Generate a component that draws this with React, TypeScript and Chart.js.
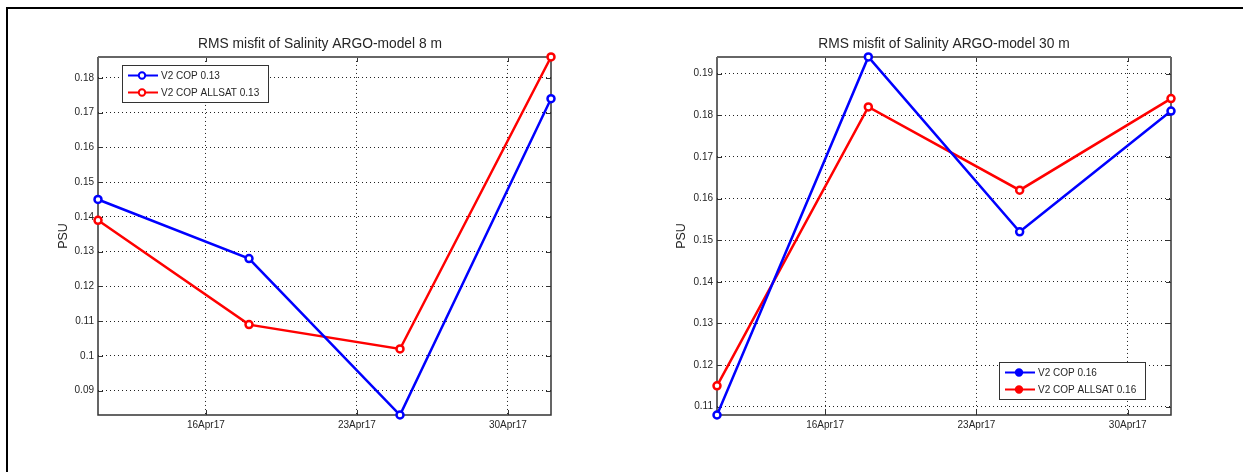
import React, { useEffect, useRef } from "react";
import { Chart, Plugin, registerables } from "chart.js";

Chart.register(...registerables);

const FONT = "'Liberation Sans', Arial, sans-serif";
const TEXT = "#262626";

const dates = ["2017-04-11", "2017-04-18", "2017-04-25", "2017-05-02"];
const tickDates = ["2017-04-16", "2017-04-23", "2017-04-30"];
const tickLabels = ["16Apr17", "23Apr17", "30Apr17"];

const blue8m = [0.145, 0.128, 0.083, 0.174];
const red8m = [0.139, 0.109, 0.102, 0.186];
const yTicks8m = [0.09, 0.1, 0.11, 0.12, 0.13, 0.14, 0.15, 0.16, 0.17, 0.18];

const blue30m = [0.108, 0.194, 0.152, 0.181];
const red30m = [0.115, 0.182, 0.162, 0.184];
const yTicks30m = [0.11, 0.12, 0.13, 0.14, 0.15, 0.16, 0.17, 0.18, 0.19];

const toTime = (d: string) => Date.parse(d + "T00:00:00Z");

type PanelProps = {
  left: number;
  width: number;
  axisWidth: number;
  rightPad: number;
  psuPad: number;
  title: string;
  blue: number[];
  red: number[];
  blueLabel: string;
  redLabel: string;
  yMin: number;
  yMax: number;
  yTicks: number[];
  legendBox: { x: number; y: number; w: number; h: number };
  legendFilled: boolean;
};

const Panel: React.FC<PanelProps> = (p) => {
  const chartRef = useRef<HTMLCanvasElement | null>(null);

  useEffect(() => {
    if (!chartRef.current) return;

    // MATLAB style box, inward ticks on all four sides, and the boxed legend
    const matlabBits: Plugin<"line"> = {
      id: "matlabBits",
      beforeDatasetsDraw(chart) {
        const { ctx, chartArea: a, scales } = chart;
        ctx.save();
        ctx.strokeStyle = "#333";
        ctx.lineWidth = 1;
        ctx.beginPath();
        scales.x.ticks.forEach((t) => {
          const x = Math.round(scales.x.getPixelForValue(t.value)) + 0.5;
          ctx.moveTo(x, a.bottom);
          ctx.lineTo(x, a.bottom - 5);
          ctx.moveTo(x, a.top);
          ctx.lineTo(x, a.top + 5);
        });
        scales.y.ticks.forEach((t) => {
          const y = Math.round(scales.y.getPixelForValue(t.value)) + 0.5;
          ctx.moveTo(a.left, y);
          ctx.lineTo(a.left + 5, y);
          ctx.moveTo(a.right, y);
          ctx.lineTo(a.right - 5, y);
        });
        ctx.stroke();

        ctx.lineWidth = 1.5;
        ctx.beginPath();
        ctx.moveTo(a.left, a.top);
        ctx.lineTo(a.left, a.bottom);
        ctx.lineTo(a.right, a.bottom);
        ctx.lineTo(a.right, a.top);
        ctx.stroke();
        ctx.strokeStyle = "#666";
        ctx.lineWidth = 2;
        ctx.beginPath();
        ctx.moveTo(a.left, a.top);
        ctx.lineTo(a.right, a.top);
        ctx.stroke();
        ctx.restore();
      },
      afterDatasetsDraw(chart) {
        const { ctx } = chart;
        ctx.save();
        const b = p.legendBox;
        ctx.fillStyle = "#fff";
        ctx.fillRect(b.x, b.y, b.w, b.h);
        ctx.strokeStyle = "#333";
        ctx.lineWidth = 1;
        ctx.strokeRect(b.x + 0.5, b.y + 0.5, b.w, b.h);

        ctx.font = "10px " + FONT;
        ctx.textBaseline = "middle";
        ctx.textAlign = "left";
        chart.data.datasets.forEach((ds, i) => {
          const rowY = b.y + 10.5 + i * 17;
          const color = ds.borderColor as string;
          ctx.strokeStyle = color;
          ctx.lineWidth = 2;
          ctx.beginPath();
          ctx.moveTo(b.x + 6, rowY);
          ctx.lineTo(b.x + 36, rowY);
          ctx.stroke();
          ctx.beginPath();
          ctx.arc(b.x + 20, rowY, 3.2, 0, Math.PI * 2);
          ctx.fillStyle = p.legendFilled ? color : "#fff";
          ctx.fill();
          ctx.stroke();
          ctx.fillStyle = TEXT;
          ctx.fillText(String(ds.label), b.x + 39, rowY + 0.5);
        });
        ctx.restore();
      },
    };

    const series = (label: string, values: number[], color: string) => ({
      label,
      data: values.map((v, i) => ({ x: toTime(dates[i]), y: v })),
      borderColor: color,
      backgroundColor: "#fff",
      borderWidth: 2.5,
      pointRadius: 3.5,
      pointBorderWidth: 2.5,
      tension: 0,
      clip: false as const,
    });

    const myChart = new Chart(chartRef.current, {
      type: "line",
      data: {
        datasets: [
          series(p.blueLabel, p.blue, "#0000ff"),
          series(p.redLabel, p.red, "#ff0000"),
        ],
      },
      options: {
        responsive: false,
        animation: false,
        layout: { padding: 0 },
        plugins: {
          legend: { display: false },
          tooltip: { enabled: false },
          title: {
            display: true,
            text: p.title,
            color: TEXT,
            font: { family: FONT, size: 13.8, weight: "normal", lineHeight: 1.2 },
            padding: { top: 35.5, bottom: 4.9 },
          },
        },
        scales: {
          x: {
            type: "linear",
            min: toTime(dates[0]),
            max: toTime(dates[dates.length - 1]),
            afterBuildTicks: (axis) => {
              axis.ticks = tickDates.map((d) => ({ value: toTime(d) }));
            },
            afterFit: (axis) => {
              axis.height = 57;
            },
            grid: { color: "#222", tickLength: 0, lineWidth: 1 },
            border: { display: false, dash: [1, 3] },
            ticks: {
              color: TEXT,
              padding: 4,
              maxRotation: 0,
              font: { family: FONT, size: 10 },
              callback: (v) => tickLabels[tickDates.findIndex((d) => toTime(d) === v)],
            },
          },
          y: {
            min: p.yMin,
            max: p.yMax,
            afterBuildTicks: (axis) => {
              axis.ticks = p.yTicks.map((v) => ({ value: v }));
            },
            afterFit: (axis) => {
              axis.width = p.axisWidth;
            },
            grid: { color: "#222", tickLength: 0, lineWidth: 1 },
            border: { display: false, dash: [1, 3] },
            title: {
              display: true,
              text: "PSU",
              color: TEXT,
              font: { family: FONT, size: 12.5 },
              padding: { top: p.psuPad, bottom: 0 },
            },
            ticks: {
              color: TEXT,
              padding: 4,
              font: { family: FONT, size: 10 },
              callback: (v) => String(v),
            },
          },
          // empty axis that reserves the right margin, so the title still centres on the whole canvas
          yRight: {
            position: "right",
            min: p.yMin,
            max: p.yMax,
            afterFit: (axis) => {
              axis.width = p.rightPad;
            },
            grid: { display: false },
            border: { display: false },
            ticks: { display: false },
          },
        },
      },
      plugins: [matlabBits],
    });

    return () => {
      myChart.destroy();
    };
  }, []);

  return (
    <canvas
      ref={chartRef}
      width={p.width}
      height={472}
      style={{ position: "absolute", left: p.left, top: 0, width: p.width, height: 472 }}
    />
  );
};

export default function App() {
  return (
    <div
      style={{
        position: "fixed",
        left: 0,
        top: 0,
        width: 1243,
        height: 472,
        overflow: "hidden",
        background: "#fff",
      }}
    >
      <Panel
        left={0}
        width={640}
        axisWidth={98}
        rightPad={89}
        psuPad={56}
        title="RMS misfit of Salinity ARGO-model 8 m"
        blue={blue8m}
        red={red8m}
        blueLabel="V2 COP 0.13"
        redLabel="V2 COP ALLSAT 0.13"
        yMin={0.083}
        yMax={0.186}
        yTicks={yTicks8m}
        legendBox={{ x: 122, y: 65, w: 146, h: 37 }}
        legendFilled={false}
      />
      <Panel
        left={645}
        width={598}
        axisWidth={72}
        rightPad={72}
        psuPad={29}
        title="RMS misfit of Salinity ARGO-model 30 m"
        blue={blue30m}
        red={red30m}
        blueLabel="V2 COP 0.16"
        redLabel="V2 COP ALLSAT 0.16"
        yMin={0.108}
        yMax={0.194}
        yTicks={yTicks30m}
        legendBox={{ x: 354, y: 362, w: 146, h: 37 }}
        legendFilled={true}
      />
      <div
        style={{
          position: "absolute",
          left: 6,
          top: 7,
          right: 0,
          bottom: 0,
          borderTop: "2px solid #000",
          borderLeft: "2px solid #000",
        }}
      />
    </div>
  );
}
